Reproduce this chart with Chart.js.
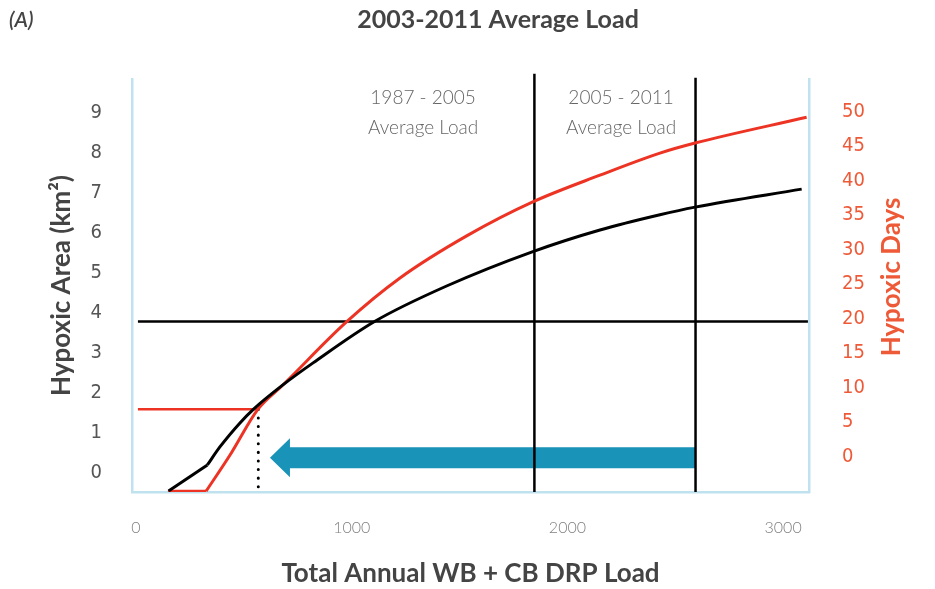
<!DOCTYPE html>
<html>
<head>
<meta charset="utf-8">
<script src="https://cdn.jsdelivr.net/npm/chart.js@4.4.1/dist/chart.umd.min.js"></script>
<style>
  html, body { margin: 0; padding: 0; background: #fff; }
  #wrap { width: 935px; height: 589px; }
</style>
</head>
<body>
<div id="wrap"><canvas id="chart" width="935" height="589"></canvas></div>
<script>
// values
const loadBlack = [151, 331, 389, 482, 544, 681, 821, 1108, 1440, 1840, 2151, 2429, 2592, 3086];
const areaKm2 = [-0.45, 0.2, 0.65, 1.25, 1.59, 2.2, 2.75, 3.79, 4.67, 5.53, 6.07, 6.45, 6.64, 7.09];
const loadRed = [148, 325, 436, 565, 681, 977, 1224, 1533, 1842, 2151, 2429, 2592, 3109];
const hypoxicDays = [-5, -5, 0.25, 6.87, 10.39, 19.57, 25.9, 32.0, 36.96, 40.8, 44.0, 45.46, 49.2];

const loadTicks = [0, 1000, 2000, 3000];
const areaTicks = [0, 1, 2, 3, 4, 5, 6, 7, 8, 9];
const dayTicks = [0, 5, 10, 15, 20, 25, 30, 35, 40, 45, 50];

const thresholdDays = 19.6;     // black horizontal line
const targetDays = 6.87;        // red horizontal line
const targetLoad = 567;         // dotted vertical line
const refLineLoad = [9, 3115];  // extent of horizontal lines
const periodLoads = [1847, 2594];
const periodTops = [9.97, 9.87];
const periodLabels = [["1987 - 2005", "Average Load"], ["2005 - 2011", "Average Load"]];
const periodLabelLoads = [1331, 2249];
const arrowTail = 2594, arrowTip = 621, arrowLevel = 0.38;

const xRange = [-18.5, 3120];
const areaRange = [-0.475, 9.84];
const daysRange = [-5.116, 54.74];

const BOLD = "Lato, 'Open Sans', sans-serif";
const NARROW = "'Liberation Sans Narrow', 'DejaVu Sans Condensed', Roboto, sans-serif";
const RED = "#ED3424";
const DAYS_TXT = "#EE5A38";

const pts = (xs, ys) => xs.map((x, i) => ({ x, y: ys[i] }));
const line = (data, color, width, axis, extra) => Object.assign({
  type: "line", data, borderColor: color, borderWidth: width,
  pointRadius: 0, fill: false, yAxisID: axis, tension: 0
}, extra || {});

const decor = {
  id: "decor",
  beforeDatasetsDraw(chart) {
    const { ctx, scales: { x, yArea } } = chart;
    const tail = x.getPixelForValue(arrowTail);
    const tip = x.getPixelForValue(arrowTip);
    const yc = yArea.getPixelForValue(arrowLevel);
    const half = 10.5, headLen = 20, headHalf = 19.5;
    ctx.save();
    ctx.fillStyle = "#1A93B8";
    ctx.beginPath();
    ctx.moveTo(tail, yc - half);
    ctx.lineTo(tip + headLen, yc - half);
    ctx.lineTo(tip + headLen, yc - headHalf);
    ctx.lineTo(tip, yc);
    ctx.lineTo(tip + headLen, yc + headHalf);
    ctx.lineTo(tip + headLen, yc + half);
    ctx.lineTo(tail, yc + half);
    ctx.closePath();
    ctx.fill();
    ctx.restore();
  },
  afterDraw(chart) {
    const { ctx, chartArea, scales: { x } } = chart;
    ctx.save();
    ctx.textBaseline = "middle";
    // panel tag + title
    ctx.fillStyle = "#444";
    ctx.textAlign = "left";
    ctx.font = "italic 600 21px " + BOLD;
    ctx.fillText("(A)", 9, 20);
    ctx.textAlign = "center";
    ctx.font = "bold 25px " + BOLD;
    ctx.fillText("2003-2011 Average Load", 498, 20);
    // period labels
    ctx.fillStyle = "#666";
    ctx.font = "300 19px " + BOLD;
    periodLabels.forEach((lines, i) => {
      const px = x.getPixelForValue(periodLabelLoads[i]);
      lines.forEach((t, j) => ctx.fillText(t, px, chartArea.top + 19 + j * 30));
    });
    // right axis title, reads bottom to top
    ctx.translate(892, 277);
    ctx.rotate(-Math.PI / 2);
    ctx.fillStyle = DAYS_TXT;
    ctx.font = "bold 26px " + BOLD;
    ctx.fillText("Hypoxic Days", 0, 0);
    ctx.restore();
  }
};

new Chart(document.getElementById("chart"), {
  data: {
    datasets: [
      line(pts(loadBlack.slice(0, 2), areaKm2.slice(0, 2)), "#000", 3, "yArea"),
      line(pts(loadBlack.slice(1), areaKm2.slice(1)), "#000", 3, "yArea", { cubicInterpolationMode: "monotone" }),
      line(pts(loadRed.slice(0, 2), hypoxicDays.slice(0, 2)), RED, 3, "yDays"),
      line(pts(loadRed.slice(1), hypoxicDays.slice(1)), RED, 3, "yDays", { cubicInterpolationMode: "monotone" }),
      line(pts(refLineLoad, [thresholdDays, thresholdDays]), "#000", 2.5, "yDays"),
      line(pts([refLineLoad[0], targetLoad], [targetDays, targetDays]), RED, 2.5, "yDays"),
      line(pts([targetLoad, targetLoad], [targetDays, daysRange[0]]), "#000", 3, "yDays",
        { borderDash: [0.1, 8.5], borderCapStyle: "round" }),
      line(pts([periodLoads[0], periodLoads[0]], [areaRange[0], periodTops[0]]), "#000", 2.5, "yArea", { clip: false }),
      line(pts([periodLoads[1], periodLoads[1]], [areaRange[0], periodTops[1]]), "#000", 2.5, "yArea", { clip: false })
    ]
  },
  options: {
    responsive: false,
    animation: false,
    layout: { padding: { top: 79 } },
    plugins: { legend: { display: false }, tooltip: { enabled: false } },
    scales: {
      x: {
        type: "linear",
        position: "bottom",
        min: xRange[0],
        max: xRange[1],
        afterBuildTicks: s => { s.ticks = loadTicks.map(v => ({ value: v })); },
        afterFit: s => { s.height = 97; },
        grid: { display: false },
        border: { display: true, color: "#BFE2EE", width: 2.5 },
        ticks: { padding: 18, maxRotation: 0, autoSkip: false, color: "#808080",
                 callback: v => String(v),
                 font: { family: BOLD, size: 16, weight: "300" } },
        title: { display: true, text: "Total Annual WB + CB DRP Load", color: "#444",
                 font: { family: BOLD, size: 26, weight: "bold" }, padding: { top: 0, bottom: 0 } }
      },
      yArea: {
        type: "linear",
        position: "left",
        min: areaRange[0],
        max: areaRange[1],
        afterBuildTicks: s => { s.ticks = areaTicks.map(v => ({ value: v })); },
        afterFit: s => { s.width = 132; },
        grid: { display: false },
        border: { display: true, color: "#BFE2EE", width: 2.5 },
        ticks: { padding: 22, color: "#555", font: { family: NARROW, size: 20 } },
        title: { display: true, text: "Hypoxic Area (km²)", color: "#444",
                 font: { family: BOLD, size: 26, weight: "bold" }, padding: { top: 46, bottom: 0 } }
      },
      yDays: {
        type: "linear",
        position: "right",
        min: daysRange[0],
        max: daysRange[1],
        afterBuildTicks: s => { s.ticks = dayTicks.map(v => ({ value: v })); },
        afterFit: s => { s.width = 126; },
        grid: { display: false },
        border: { display: true, color: "#BFE2EE", width: 2.5 },
        ticks: { padding: 25, color: DAYS_TXT, font: { family: NARROW, size: 20 } }
      }
    }
  },
  plugins: [decor]
});
</script>
</body>
</html>
